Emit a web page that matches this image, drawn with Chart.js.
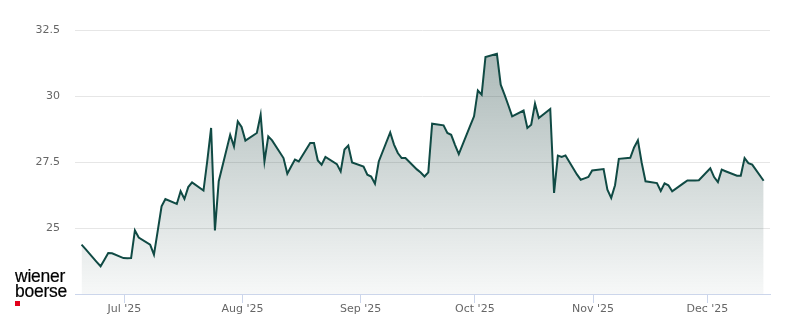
<!DOCTYPE html>
<html>
<head>
<meta charset="utf-8">
<script src="https://cdn.jsdelivr.net/npm/chart.js@4"></script>
<style>
html, body { margin: 0; padding: 0; background: #fff; }
#wrap { position: relative; width: 800px; height: 324px; }
#logo {
  position: absolute; left: 15px; top: 269px;
  font-family: "Liberation Sans", Arial, sans-serif;
  font-size: 17.5px; line-height: 15px; color: #000; letter-spacing: -0.25px;
  -webkit-text-stroke: 0.2px #000;
}
#logo i { display: block; width: 4.5px; height: 4.5px; background: #e2001a; margin-top: 2px; }
</style>
</head>
<body>
<div id="wrap">
  <canvas id="chart" width="800" height="324"></canvas>
  <div id="logo">wiener<br>boerse<i></i></div>
</div>
<script>
// trading days and closing prices
var tradeDates = [
  '2025-06-19','2025-06-20','2025-06-23','2025-06-24','2025-06-25','2025-06-26','2025-06-27','2025-06-30',
  '2025-07-01','2025-07-02','2025-07-03','2025-07-04','2025-07-07','2025-07-08','2025-07-09','2025-07-10',
  '2025-07-11','2025-07-14','2025-07-15','2025-07-16','2025-07-17','2025-07-18','2025-07-21','2025-07-22',
  '2025-07-23','2025-07-24','2025-07-25','2025-07-28','2025-07-29','2025-07-30','2025-07-31',
  '2025-08-01','2025-08-04','2025-08-05','2025-08-06','2025-08-07','2025-08-08','2025-08-11','2025-08-12',
  '2025-08-13','2025-08-14','2025-08-15','2025-08-18','2025-08-19','2025-08-20','2025-08-21','2025-08-22',
  '2025-08-25','2025-08-26','2025-08-27','2025-08-28','2025-08-29',
  '2025-09-01','2025-09-02','2025-09-03','2025-09-04','2025-09-05','2025-09-08','2025-09-09','2025-09-10',
  '2025-09-11','2025-09-12','2025-09-15','2025-09-16','2025-09-17','2025-09-18','2025-09-19','2025-09-22',
  '2025-09-23','2025-09-24','2025-09-25','2025-09-26','2025-09-29','2025-09-30',
  '2025-10-01','2025-10-02','2025-10-03','2025-10-06','2025-10-07','2025-10-08','2025-10-09','2025-10-10',
  '2025-10-13','2025-10-14','2025-10-15','2025-10-16','2025-10-17','2025-10-20','2025-10-21','2025-10-22',
  '2025-10-23','2025-10-24','2025-10-27','2025-10-28','2025-10-29','2025-10-30','2025-10-31',
  '2025-11-03','2025-11-04','2025-11-05','2025-11-06','2025-11-07','2025-11-10','2025-11-11','2025-11-12',
  '2025-11-13','2025-11-14','2025-11-17','2025-11-18','2025-11-19','2025-11-20','2025-11-21','2025-11-24',
  '2025-11-25','2025-11-26','2025-11-27','2025-11-28',
  '2025-12-01','2025-12-02','2025-12-03','2025-12-04','2025-12-05','2025-12-08','2025-12-09','2025-12-10',
  '2025-12-11','2025-12-12','2025-12-15'
];
var closePrices = [
  24.37, 24.21, 23.71, 23.55, 23.80, 24.05, 24.04, 23.86,
  23.85, 23.86, 24.91, 24.64, 24.37, 23.99, 24.90, 25.82,
  26.10, 25.91, 26.39, 26.10, 26.55, 26.73, 26.42, 27.55,
  28.79, 24.91, 26.77, 28.53, 28.09, 29.04, 28.83,
  28.31, 28.60, 29.29, 27.52, 28.47, 28.32, 27.65, 27.06,
  27.33, 27.59, 27.52, 28.22, 28.22, 27.56, 27.40, 27.69,
  27.42, 27.14, 27.97, 28.12, 27.48,
  27.33, 27.02, 26.95, 26.68, 27.52, 28.62, 28.16, 27.84,
  27.65, 27.65, 27.22, 27.10, 26.95, 27.11, 28.95, 28.89,
  28.60, 28.53, 28.15, 27.80, 28.88, 29.23,
  30.21, 30.05, 31.48, 31.60, 30.43, 30.05, 29.65, 29.23,
  29.45, 28.79, 28.91, 29.71, 29.17, 29.51, 26.33, 27.74,
  27.69, 27.75, 27.03, 26.83, 26.88, 26.93, 27.18,
  27.23, 26.45, 26.14, 26.62, 27.62, 27.66, 28.05, 28.32,
  27.47, 26.77, 26.70, 26.40, 26.69, 26.62, 26.39, 26.70,
  26.80, 26.80, 26.80, 26.81,
  27.26, 26.93, 26.74, 27.21, 27.15, 26.98, 26.98, 27.65,
  27.46, 27.40, 26.79
];
var monthTicks = ['2025-07-01','2025-08-01','2025-09-01','2025-10-01','2025-11-01','2025-12-01'];
var monthLabels = ["Jul '25", "Aug '25", "Sep '25", "Oct '25", "Nov '25", "Dec '25"];
var yTicks = [22.5, 25, 27.5, 30, 32.5];

var DAY = 86400000;
var ORIGIN = Date.UTC(2025, 6, 1);
var CLOSE_OFFSET = 0.78; // closes are stamped late in the day

function dayNum(s) {
  return (Date.parse(s) - ORIGIN) / DAY;
}

var points = tradeDates.map(function (d, i) {
  return { x: dayNum(d) + CLOSE_OFFSET, y: closePrices[i] };
});

function areaFill(context) {
  var area = context.chart.chartArea;
  if (!area) return 'rgba(0,0,0,0)';
  var g = context.chart.ctx.createLinearGradient(0, area.top, 0, area.bottom);
  g.addColorStop(0, 'rgba(40,75,72,0.42)');
  g.addColorStop(1, 'rgba(40,75,72,0.04)');
  return g;
}

var axisFont = { family: 'DejaVu Sans', size: 11 };

new Chart(document.getElementById('chart'), {
  type: 'line',
  data: {
    datasets: [{
      data: points,
      borderColor: '#104a44',
      borderWidth: 2,
      pointRadius: 0,
      tension: 0,
      fill: 'start',
      backgroundColor: areaFill
    }]
  },
  options: {
    responsive: false,
    animation: false,
    events: [],
    layout: { padding: { top: 30, right: 30, left: 0, bottom: 0 } },
    plugins: { legend: { display: false }, tooltip: { enabled: false } },
    scales: {
      x: {
        type: 'linear',
        min: -12.94,
        max: 169.45,
        afterBuildTicks: function (scale) {
          scale.ticks = monthTicks.map(function (d) { return { value: dayNum(d) }; });
        },
        afterFit: function (scale) { scale.height = 30; },
        ticks: {
          autoSkip: false,
          maxRotation: 0,
          padding: 0,
          color: '#666666',
          font: axisFont,
          callback: function (v, i) { return monthLabels[i]; }
        },
        grid: { drawOnChartArea: false, drawTicks: true, tickLength: 9, color: '#ccd6eb' },
        border: { color: '#ccd6eb', width: 1 }
      },
      y: {
        min: 22.5,
        max: 32.5,
        afterBuildTicks: function (scale) {
          scale.ticks = yTicks.map(function (v) { return { value: v }; });
        },
        afterFit: function (scale) { scale.width = 75; },
        ticks: {
          padding: 15,
          color: '#666666',
          font: axisFont,
          callback: function (v) { return v === 22.5 ? '' : String(v); }
        },
        grid: {
          drawTicks: false,
          color: function (ctx) { return ctx.tick && ctx.tick.value === 22.5 ? 'rgba(0,0,0,0)' : '#e6e6e6'; }
        },
        border: { display: false }
      }
    }
  }
});
</script>
</body>
</html>
